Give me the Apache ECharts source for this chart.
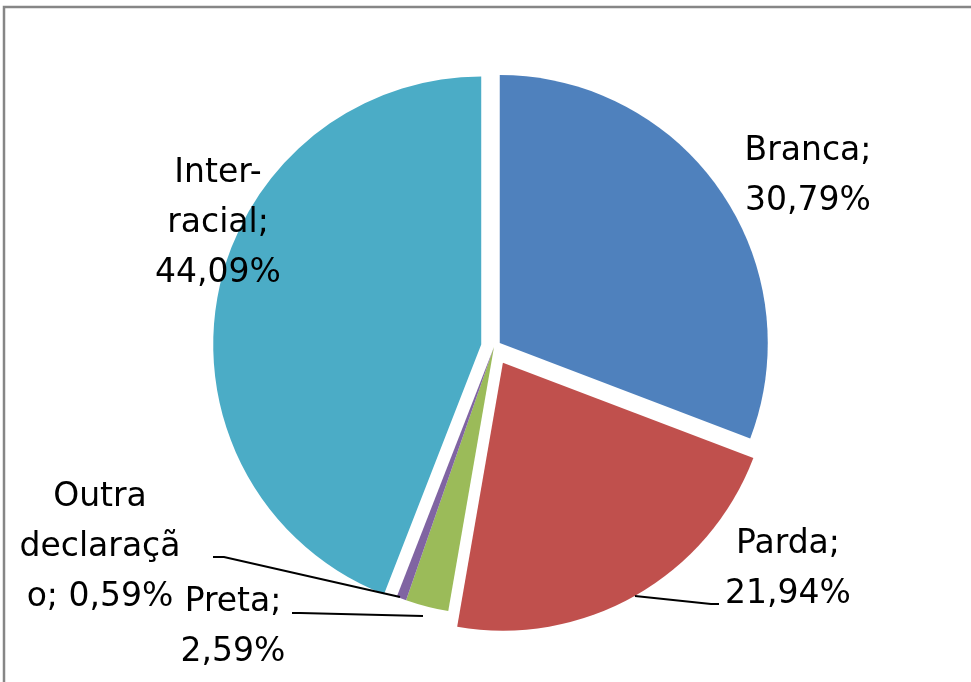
<!DOCTYPE html>
<html>
<head>
<meta charset="utf-8">
<script src="https://cdn.jsdelivr.net/npm/echarts@6/dist/echarts.min.js"></script>
<style>
html, body { margin: 0; padding: 0; background: #ffffff; }
#chart { width: 971px; height: 682px; }
</style>
</head>
<body>
<div id="chart"></div>
<script>
// ---- data ----
const categories = ['Branca', 'Parda', 'Preta', 'Outra declaração', 'Inter-racial'];
const values = [30.79, 21.94, 2.59, 0.59, 44.09];
// wrapped label names as shown in the chart
const labelNames = ['Branca;\n', 'Parda;\n', 'Preta;\n', 'Outra\ndeclaraçã\no; ', 'Inter-\nracial;\n'];

// ---- styling / layout ----
const colors = ['#4F81BD', '#C0504D', '#9BBB59', '#8064A2', '#4BACC6'];
const explode = [7, 18, 0, 0, 13];
const labelCenters = [[808, 176], [788, 569], [233, 627], [100, 547], [218, 223]];
const leaderLines = [
  null,
  [[635, 596], [711, 604], [719, 604]],
  [[423, 616], [300, 613], [292, 613]],
  [[400, 597], [224, 557], [213, 557]],
  null
];
const pieCenter = [494, 347];
const pieRadius = 268;

function fmt(v) {
  return v.toFixed(2).replace('.', ',') + '%';
}

const chart = echarts.init(document.getElementById('chart'), null, { renderer: 'canvas' });

// one series per slice so each slice can have its own explosion distance
const sliceSeries = categories.map((cat, k) => ({
  type: 'pie',
  center: pieCenter,
  radius: pieRadius,
  startAngle: 90,
  clockwise: true,
  animation: false,
  silent: true,
  selectedMode: 'multiple',
  selectedOffset: explode[k],
  z: 2,
  label: { show: false },
  labelLine: { show: false },
  data: categories.map((name, i) => ({
    name: name,
    value: values[i],
    selected: i === k,
    itemStyle: { color: i === k ? colors[i] : 'rgba(0,0,0,0)', borderWidth: 0 }
  }))
}));

// label series (transparent sectors, labels placed like the original)
const labelSeries = {
  type: 'pie',
  center: pieCenter,
  radius: pieRadius,
  startAngle: 90,
  clockwise: true,
  animation: false,
  silent: true,
  avoidLabelOverlap: false,
  z: 3,
  labelLayout: (p) => {
    const i = p.dataIndex;
    const res = {
      x: labelCenters[i][0],
      y: labelCenters[i][1],
      align: 'center',
      verticalAlign: 'middle'
    };
    if (leaderLines[i]) res.labelLinePoints = leaderLines[i];
    return res;
  },
  data: categories.map((name, i) => ({
    name: name,
    value: values[i],
    itemStyle: { color: 'rgba(0,0,0,0)', borderWidth: 0 },
    label: {
      show: true,
      formatter: () => labelNames[i] + fmt(values[i]),
      fontFamily: 'DejaVu Sans',
      fontSize: 33,
      lineHeight: 50,
      color: '#000000',
      align: 'center'
    },
    labelLine: {
      show: !!leaderLines[i],
      smooth: false,
      lineStyle: { color: '#000000', width: 2 }
    }
  }))
};

chart.setOption({
  backgroundColor: '#ffffff',
  animation: false,
  graphic: [{
    type: 'rect',
    silent: true,
    z: -10,
    shape: { x: 4, y: 7, width: 1200, height: 1000 },
    style: { fill: 'none', stroke: '#868686', lineWidth: 2.5 }
  }],
  series: sliceSeries.concat([labelSeries])
});
</script>
</body>
</html>
